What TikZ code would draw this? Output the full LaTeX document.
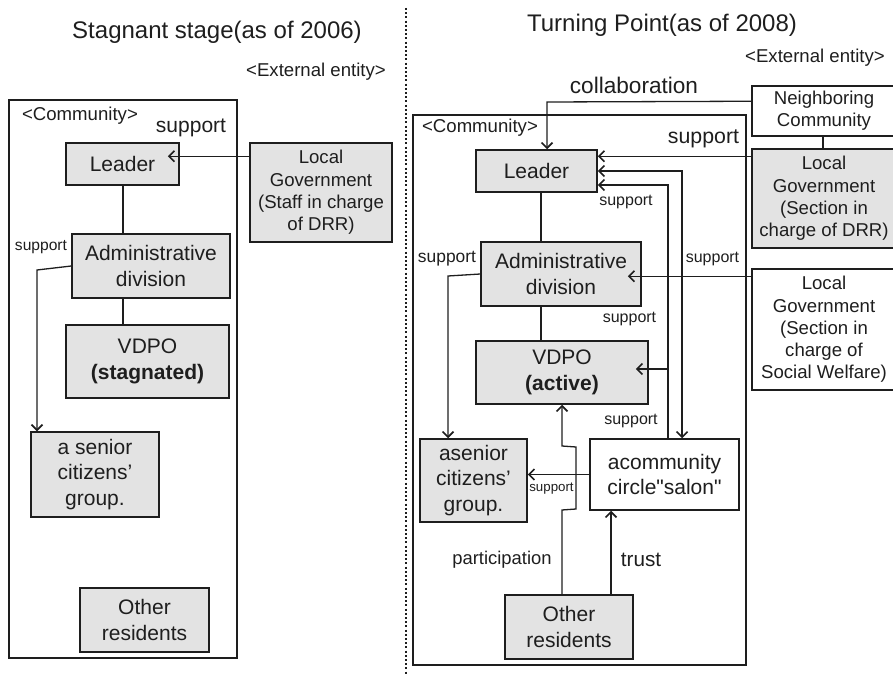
\documentclass[tikz,border=0pt]{standalone}
\usepackage{fontspec}
\setmainfont{Liberation Sans}[Ligatures=TeXOff]
\usetikzlibrary{arrows.meta}
\definecolor{boxgray}{RGB}{227,227,227}
\definecolor{ink}{RGB}{30,30,30}
\begin{document}
\begin{tikzpicture}[x=1pt,y=-1pt,
  every node/.style={text=ink},
  box/.style={draw=ink, line width=1.5pt, fill=boxgray, align=center, inner sep=0pt,
              font=\fontsize{21}{25.5}\selectfont},
  wbox/.style={box, fill=white},
  extbox/.style={box, font=\fontsize{18.6}{22.3}\selectfont},
  frame/.style={draw=ink, line width=2pt},
  conn/.style={draw=ink, line width=1.3pt},
  arr/.style={conn, -{Straight Barb[length=5.5pt,width=11pt,line width=1.6pt]}},
  darr/.style={conn, {Straight Barb[length=5.5pt,width=11pt,line width=1.6pt]}-{Straight Barb[length=5.5pt,width=11pt,line width=1.6pt]}},
  lbl/.style={inner sep=0pt, font=\fontsize{#1}{#1}\selectfont},
]
\useasboundingbox (0,0) rectangle (893,676);

% ---------------- left panel: stagnant stage ----------------
\node[lbl=24] (titleL) at (217,32) {Stagnant stage(as of 2006)};
\node[lbl=18.6] (extL) at (316,72) {<External entity>};
\draw[frame] (9,100) rectangle (237,658);
\node[lbl=18.6] (commL) at (80,116) {<Community>};
\node[lbl=21] (supBigL) at (191,128) {support};
\node[lbl=15.6] (supSmL) at (41,247) {support};

\node[box, minimum width=113, minimum height=42] (ldL) at (122.5,164) {Leader};
\node[extbox, minimum width=142, minimum height=99] (govL) at (321,192.5)
  {Local\\Government\\(Staff in charge\\of DRR)};
\node[box, minimum width=158, minimum height=64] (adL) at (151,266) {Administrative\\division};
\node[box, minimum width=163, minimum height=73] (vdL) at (147.5,361.5) {VDPO\\\textbf{(stagnated)}};
\node[box, minimum width=128, minimum height=85] (srL) at (95,474.5) {a senior\\citizens’\\group.};
\node[box, minimum width=129, minimum height=64] (orL) at (144.5,620) {Other\\residents};

\coordinate (glIn) at ([yshift=-14pt]govL.north west);
\draw[arr] (glIn) -- ([xshift=-12pt]ldL.east |- glIn);
\coordinate (ldLx) at (123,0);
\draw[conn] (ldLx |- ldL.south) -- (ldLx |- adL.north);
\draw[conn] (ldLx |- adL.south) -- (ldLx |- vdL.north);
\coordinate (bendL) at (37,270);
\draw[arr] (adL.west) -- (bendL) -- (bendL |- srL.north);

% ---------------- divider ----------------
\draw[ink, line width=2pt, dash pattern=on 2pt off 2.2pt] (406,8) -- (406,676);

% ---------------- right panel: turning point ----------------
\node[lbl=24] (titleR) at (662,25) {Turning Point(as of 2008)};
\node[lbl=18.6] (extR) at (815,58) {<External entity>};
\node[lbl=22.6] (collab) at (634,85) {collaboration};
\draw[frame] (413,115) rectangle (746,665);
\node[lbl=18.6] (commR) at (480,128) {<Community>};
\node[lbl=21.3] (supBigR) at (703.5,139) {support};
\node[lbl=16] (supA) at (626,202) {support};
\node[lbl=16] (supB) at (712.5,259) {support};
\node[lbl=16] (supC) at (629.5,319) {support};
\node[lbl=16] (supD) at (631,421) {support};
\node[lbl=13.3] (supE) at (551.5,489) {support};
\node[lbl=17.4] (supF) at (447,259) {support};
\node[lbl=18.4] (partic) at (502,560) {participation};
\node[lbl=20.7] (trust) at (641,560) {trust};

\node[extbox, fill=white, minimum width=144, minimum height=50] (nb) at (824,111) {Neighboring\\Community};
\node[extbox, minimum width=144, minimum height=99] (dr) at (824,198.5)
  {Local\\Government\\(Section in\\charge of DRR)};
\node[extbox, fill=white, minimum width=144, minimum height=121] (sw) at (824,329.5)
  {Local\\Government\\(Section in\\charge of\\Social Welfare)};

\node[box, minimum width=121, minimum height=42] (ldR) at (536.5,171) {Leader};
\node[box, minimum width=160, minimum height=64] (adR) at (561,274) {Administrative\\division};
\node[box, minimum width=172, minimum height=63] (vdR) at (562,372.5) {VDPO\\\textbf{(active)}};
\node[box, minimum width=107, minimum height=83] (srR) at (473.5,480.5) {asenior\\citizens’\\group.};
\node[wbox, minimum width=149, minimum height=71] (slR) at (664.5,474.5) {acommunity\\circle"salon"};
\node[box, minimum width=128, minimum height=64] (orR) at (569,627) {Other\\residents};

% hierarchy inside the community
\coordinate (ldRx) at (541,0);
\draw[conn] (ldRx |- ldR.south) -- (ldRx |- adR.north);
\draw[conn] (ldRx |- adR.south) -- (ldRx |- vdR.north);

% external links
\coordinate (nbx) at (823,0);
\draw[conn] (nbx |- nb.south) -- (nbx |- dr.north);
\coordinate (nbOut) at ([yshift=-16pt]nb.north west);
\coordinate (nbBend) at (547,102);
\draw[arr] (nbOut) -- (nbBend) -- (nbBend |- ldR.north);
\coordinate (drOut) at ([yshift=-8pt]dr.north west);
\draw[arr] (drOut) -- (ldR.east |- drOut);
\coordinate (swOut) at ([yshift=-8pt]sw.north west);
\draw[arr] (swOut) -- ([xshift=-14pt]adR.east |- swOut);

% salon links
\coordinate (b1) at (682,171);
\draw[darr] (ldR.east |- b1) -- (b1) -- (b1 |- slR.north);
\coordinate (c1) at (668,185);
\draw[arr] (c1 |- slR.north) -- (c1) -- (ldR.east |- c1);
\coordinate (c2) at (668,369);
\draw[arr] (c2) -- ([xshift=-13pt]vdR.east |- c2);
\draw[arr] (slR.west) -- (srR.east |- slR.west);
\coordinate (bendR) at (448,276);
\draw[arr] (adR.west) -- (bendR) -- (bendR |- srR.north);

% residents
\coordinate (p1) at (562,510);
\coordinate (p2) at (576,509);
\coordinate (p3) at (576,447);
\coordinate (p4) at (562,446);
\draw[arr] (p1 |- orR.north) -- (p1) -- (p2) -- (p3) -- (p4) -- (p4 |- vdR.south);
\coordinate (t1) at (611,0);
\draw[arr] (t1 |- orR.north) -- (t1 |- slR.south);
\end{tikzpicture}
\end{document}
